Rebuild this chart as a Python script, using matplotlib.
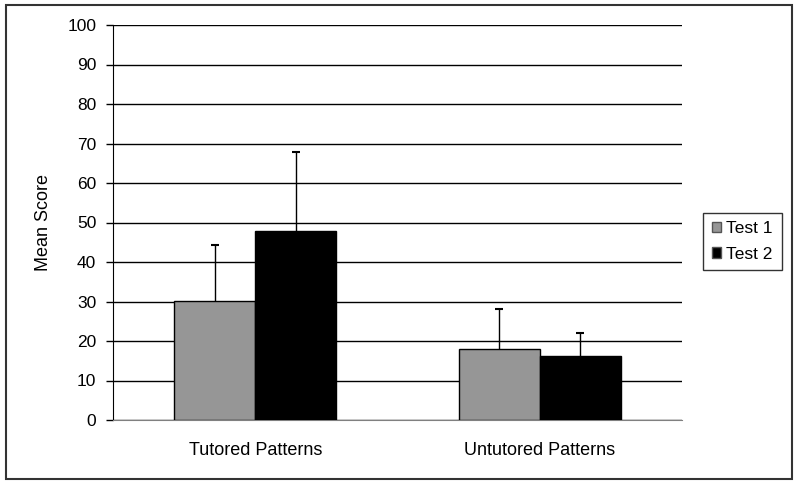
import matplotlib.pyplot as plt
import matplotlib.patches as mpatches
import numpy as np

plt.rcParams['font.family'] = ['Liberation Sans', 'DejaVu Sans']

categories = ['Tutored Patterns', 'Untutored Patterns']
series_names = ['Test 1', 'Test 2']
test1 = [30.2, 18.0]
test2 = [47.9, 16.3]
test1_err = [14.0, 10.0]
test2_err = [20.0, 5.6]
yticks = [0, 10, 20, 30, 40, 50, 60, 70, 80, 90, 100]

W, H = 800, 487
fig = plt.figure(figsize=(W / 100, H / 100), dpi=100)

# rahmen um die ganze grafik
fig.patches.append(mpatches.Rectangle((6 / W, 8 / H), 786 / W, 474 / H,
                                      transform=fig.transFigure, fill=False,
                                      edgecolor='#333333', linewidth=1.5))

ax = fig.add_axes([113 / W, (H - 420) / H, 569 / W, 395 / H])

x = np.arange(len(categories))
bw = 0.285
colors = ['#969696', '#000000']

for i, (vals, errs) in enumerate([(test1, test1_err), (test2, test2_err)]):
    pos = x + (i - 0.5) * bw
    ax.bar(pos, vals, bw, color=colors[i], edgecolor='black', linewidth=1,
           zorder=3, label=series_names[i])
    eb = ax.errorbar(pos, vals, yerr=[np.zeros(len(errs)), errs], fmt='none',
                     ecolor='black', elinewidth=1, capsize=3.2, capthick=1.5, zorder=4)
    # nur die obere kappe behalten
    eb[1][0].set_visible(False)

ax.set_xlim(-0.5, 1.5)
ax.set_ylim(0, 100)
ax.set_yticks(yticks)
ax.set_xticks(x)
ax.set_xticklabels(categories, fontsize=13)
ax.tick_params(axis='x', length=0, pad=16)
ax.tick_params(axis='y', labelsize=12.5, length=5, width=1, direction='out', pad=7)
ax.yaxis.grid(True, color='black', linewidth=1)
ax.set_axisbelow(True)
for s in ['top', 'right']:
    ax.spines[s].set_visible(False)
ax.spines['bottom'].set_color('#808080')
ax.spines['left'].set_color('black')
ax.set_ylabel('Mean Score', fontsize=13, labelpad=11)

handles = [mpatches.Patch(facecolor=c, edgecolor='#555555', linewidth=1) for c in colors]
leg = fig.legend(handles, series_names, loc='center left',
                 bbox_to_anchor=(703 / W, 1 - 241.5 / H), fontsize=12.5,
                 frameon=True, fancybox=False, edgecolor='black',
                 handlelength=0.55, handleheight=0.55, handletextpad=0.3,
                 borderpad=0.5, labelspacing=0.6, borderaxespad=0)
leg.get_frame().set_linewidth(1)

plt.savefig('out.png', dpi=100)
